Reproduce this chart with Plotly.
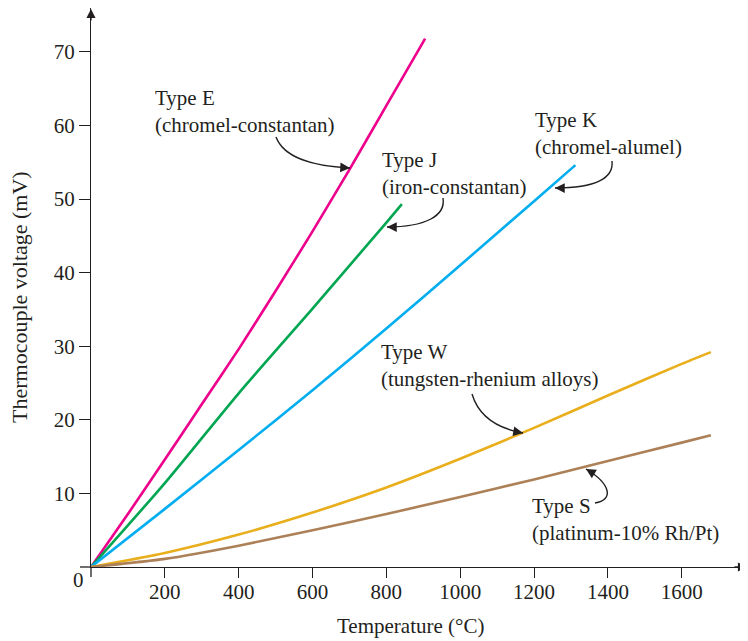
import plotly.graph_objects as go

# ---- data ----
temp_E = [0, 100, 200, 300, 400, 500, 600, 700, 800, 905]
volt_E = [0, 7.2, 14.6, 22.1, 29.6, 37.5, 45.6, 54.0, 62.7, 71.8]
temp_J = [0, 200, 400, 600, 800, 842]
volt_J = [0, 11.4, 23.6, 35.1, 46.8, 49.3]
temp_K = [0, 200, 400, 600, 800, 1000, 1200, 1312]
volt_K = [0, 7.9, 15.9, 24.0, 32.4, 41.0, 49.7, 54.6]
temp_W = [0, 200, 400, 600, 800, 1000, 1200, 1400, 1600, 1679]
volt_W = [0, 1.9, 4.4, 7.4, 10.8, 14.7, 18.9, 23.3, 27.6, 29.2]
temp_S = [0, 200, 400, 600, 800, 1000, 1200, 1400, 1600, 1679]
volt_S = [0, 1.1, 2.9, 5.0, 7.2, 9.5, 11.9, 14.4, 16.9, 17.9]

x_ticks = [200, 400, 600, 800, 1000, 1200, 1400, 1600]
y_ticks = [10, 20, 30, 40, 50, 60, 70]

series = [
    ("Type E", temp_E, volt_E, "#EC008C"),
    ("Type J", temp_J, volt_J, "#00A651"),
    ("Type K", temp_K, volt_K, "#00AEEF"),
    ("Type W", temp_W, volt_W, "#E9AE1B"),
    ("Type S", temp_S, volt_S, "#AD8158"),
]

INK = "#231f20"
FONT = "Liberation Serif"
FS = 21

# page offset (browser body margin) and plot-area geometry in figure pixels
OFF = 8
FIG_W, FIG_H = 748 - OFF, 641 - OFF
L, T, W, H = 91 - OFF, 0, 656, 559
X_MAX = W / 0.3692
Y_MAX = H / 7.36


def px(x, y):
    """page pixel -> paper coordinates"""
    return ((x - OFF - L) / W, (T + H - (y - OFF)) / H)


fig = go.Figure()
for name, xs, ys, col in series:
    fig.add_trace(go.Scatter(x=xs, y=ys, mode="lines", name=name,
                             line=dict(color=col, width=2.6, shape="spline", smoothing=0.6),
                             showlegend=False, hoverinfo="skip"))

shapes = []
annotations = []

# axis overhangs
shapes.append(dict(type="line", xref="paper", yref="paper", xsizemode="pixel", xanchor=0,
                   x0=-11, x1=0, y0=0, y1=0, line=dict(color=INK, width=1.3)))
shapes.append(dict(type="line", xref="paper", yref="paper", ysizemode="pixel", yanchor=0,
                   x0=0, x1=0, y0=-10, y1=0, line=dict(color=INK, width=1.3)))
# axis arrowheads
annotations.append(dict(xref="paper", yref="paper", x=1, y=0, ax=-14, ay=0, text="",
                        showarrow=True, arrowhead=2, arrowsize=1.4, arrowwidth=1.3,
                        arrowcolor=INK, standoff=0))
annotations.append(dict(xref="paper", yref="paper", x=0, y=1, ax=0, ay=14, text="",
                        showarrow=True, arrowhead=2, arrowsize=1.4, arrowwidth=1.3,
                        arrowcolor=INK, standoff=0))

# curved leader arrows (page-pixel control points)
curves = [
    ((276, 137), (284, 158), (312, 166), (350, 168)),
    ((443, 198), (446, 216), (425, 227), (387, 227)),
    ((612, 161), (614, 178), (596, 188), (555, 188)),
    ((472, 394), (478, 414), (495, 428), (523, 433)),
    ((595, 503), (614, 500), (611, 484), (586, 469)),
]
for p0, c1, c2, p1 in curves:
    pts = [px(*p) for p in (p0, c1, c2, p1)]
    path = "M {},{} C {},{} {},{} {},{}".format(*[v for p in pts for v in p])
    shapes.append(dict(type="path", xref="paper", yref="paper", path=path,
                       line=dict(color=INK, width=1.4)))
    dx, dy = c2[0] - p1[0], c2[1] - p1[1]
    n = (dx * dx + dy * dy) ** 0.5
    annotations.append(dict(xref="paper", yref="paper", x=pts[3][0], y=pts[3][1],
                            ax=dx / n * 9, ay=dy / n * 9, text="", showarrow=True,
                            arrowhead=2, arrowsize=1.5, arrowwidth=1.3, arrowcolor=INK,
                            standoff=0))

# labels
labels = [
    ("Type E<br>(chromel-constantan)", 153, 111.5),
    ("Type J<br>(iron-constantan)", 380, 173),
    ("Type K<br>(chromel-alumel)", 533, 133),
    ("Type W<br>(tungsten-rhenium alloys)", 379, 365),
    ("Type S<br>(platinum-10% Rh/Pt)", 530, 519),
]
for txt, x, y in labels:
    xx, yy = px(x, y)
    annotations.append(dict(xref="paper", yref="paper", x=xx, y=yy, text=txt,
                            xanchor="left", yanchor="middle", align="left", showarrow=False,
                            font=dict(family=FONT, size=FS, color=INK)))

# origin "0"
ox, oy = px(78, 580)
annotations.append(dict(xref="paper", yref="paper", x=ox, y=oy, text="0", showarrow=False,
                        xanchor="center", yanchor="middle",
                        font=dict(family=FONT, size=FS, color=INK)))
# axis titles
tx, ty = px(410, 626)
annotations.append(dict(xref="paper", yref="paper", x=tx, y=ty, text="Temperature (°C)",
                        showarrow=False, xanchor="center", yanchor="middle",
                        font=dict(family=FONT, size=FS, color=INK)))
vx, vy = px(20, 297)
annotations.append(dict(xref="paper", yref="paper", x=vx, y=vy,
                        text="Thermocouple voltage (mV)", textangle=-90,
                        showarrow=False, xanchor="center", yanchor="middle",
                        font=dict(family=FONT, size=22, color=INK)))

axis_common = dict(showline=True, linecolor=INK, linewidth=1.3, ticks="outside",
                   tickwidth=1.3, tickcolor=INK, showgrid=False, zeroline=False,
                   tickfont=dict(family=FONT, size=FS, color=INK), fixedrange=True)

fig.update_layout(
    width=FIG_W, height=FIG_H,
    margin=dict(l=L, r=FIG_W - L - W, t=T, b=FIG_H - T - H, pad=0, autoexpand=False),
    paper_bgcolor="white", plot_bgcolor="white",
    xaxis=dict(range=[0, X_MAX], tickvals=x_ticks, ticklen=10, ticklabelstandoff=-4,
               **axis_common),
    yaxis=dict(range=[0, Y_MAX], tickvals=y_ticks, ticklen=11, **axis_common),
    shapes=shapes, annotations=annotations,
    showlegend=False,
)

fig.write_html("out.html")
